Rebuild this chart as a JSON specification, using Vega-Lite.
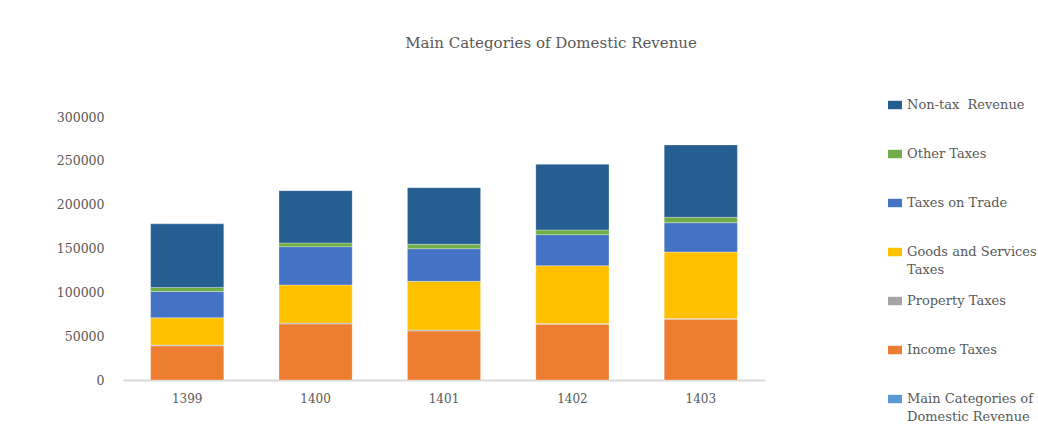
{
  "$schema": "https://vega.github.io/schema/vega-lite/v6.json",
  "autosize": {"type": "none"},
  "padding": {"left": 123, "top": 117, "right": 273, "bottom": 54},
  "width": 642,
  "height": 263,
  "background": "#ffffff",
  "title": {
    "text": "Main Categories of Domestic Revenue",
    "anchor": "middle",
    "frame": "group",
    "orient": "top",
    "dx": 107,
    "offset": 39,
    "baseline": "alphabetic",
    "font": "DejaVu Serif",
    "fontSize": 15,
    "fontWeight": "normal",
    "color": "#595959"
  },
  "data": {
    "values": [
      {"year": "1399", "category": "Income Taxes", "ord": 1, "value": 39000},
      {"year": "1399", "category": "Property Taxes", "ord": 2, "value": 1000},
      {"year": "1399", "category": "Goods and Services Taxes", "ord": 3, "value": 31000},
      {"year": "1399", "category": "Taxes on Trade", "ord": 4, "value": 30000},
      {"year": "1399", "category": "Other Taxes", "ord": 5, "value": 4600},
      {"year": "1399", "category": "Non-tax  Revenue", "ord": 6, "value": 72500},
      {"year": "1400", "category": "Income Taxes", "ord": 1, "value": 64000},
      {"year": "1400", "category": "Property Taxes", "ord": 2, "value": 1000},
      {"year": "1400", "category": "Goods and Services Taxes", "ord": 3, "value": 43400},
      {"year": "1400", "category": "Taxes on Trade", "ord": 4, "value": 43700},
      {"year": "1400", "category": "Other Taxes", "ord": 5, "value": 4200},
      {"year": "1400", "category": "Non-tax  Revenue", "ord": 6, "value": 59700},
      {"year": "1401", "category": "Income Taxes", "ord": 1, "value": 56000},
      {"year": "1401", "category": "Property Taxes", "ord": 2, "value": 1000},
      {"year": "1401", "category": "Goods and Services Taxes", "ord": 3, "value": 55600},
      {"year": "1401", "category": "Taxes on Trade", "ord": 4, "value": 37200},
      {"year": "1401", "category": "Other Taxes", "ord": 5, "value": 5000},
      {"year": "1401", "category": "Non-tax  Revenue", "ord": 6, "value": 64600},
      {"year": "1402", "category": "Income Taxes", "ord": 1, "value": 63500},
      {"year": "1402", "category": "Property Taxes", "ord": 2, "value": 1000},
      {"year": "1402", "category": "Goods and Services Taxes", "ord": 3, "value": 65900},
      {"year": "1402", "category": "Taxes on Trade", "ord": 4, "value": 35400},
      {"year": "1402", "category": "Other Taxes", "ord": 5, "value": 5300},
      {"year": "1402", "category": "Non-tax  Revenue", "ord": 6, "value": 74900},
      {"year": "1403", "category": "Income Taxes", "ord": 1, "value": 69200},
      {"year": "1403", "category": "Property Taxes", "ord": 2, "value": 1000},
      {"year": "1403", "category": "Goods and Services Taxes", "ord": 3, "value": 75800},
      {"year": "1403", "category": "Taxes on Trade", "ord": 4, "value": 33400},
      {"year": "1403", "category": "Other Taxes", "ord": 5, "value": 6200},
      {"year": "1403", "category": "Non-tax  Revenue", "ord": 6, "value": 82500}
    ]
  },
  "mark": {"type": "bar", "stroke": "#ffffff", "strokeOpacity": 0.4, "strokeWidth": 0.75},
  "encoding": {
    "x": {
      "field": "year",
      "type": "ordinal",
      "scale": {"paddingInner": 0.43, "paddingOuter": 0.215},
      "axis": {
        "title": null,
        "labelAngle": 0,
        "ticks": false,
        "tickSize": 0,
        "labelPadding": 13,
        "domainColor": "#d9d9d9",
        "domainWidth": 2,
        "labelFont": "DejaVu Serif",
        "labelFontSize": 12,
        "labelColor": "#595959"
      }
    },
    "y": {
      "field": "value",
      "type": "quantitative",
      "stack": "zero",
      "scale": {"domain": [0, 300000], "nice": false},
      "axis": {
        "title": null,
        "values": [0, 50000, 100000, 150000, 200000, 250000, 300000],
        "format": "d",
        "grid": false,
        "domain": false,
        "ticks": false,
        "tickSize": 0,
        "labelPadding": 19,
        "labelFont": "DejaVu Serif",
        "labelFontSize": 12.5,
        "labelColor": "#595959"
      }
    },
    "order": {"field": "ord", "type": "quantitative", "sort": "ascending"},
    "color": {
      "field": "category",
      "type": "nominal",
      "scale": {
        "domain": ["Non-tax  Revenue", "Other Taxes", "Taxes on Trade", "Goods and Services Taxes", "Property Taxes", "Income Taxes", "Main Categories of Domestic Revenue"],
        "range": ["#255E91", "#70AD47", "#4472C4", "#FFC000", "#A5A5A5", "#ED7D31", "#5B9BD5"]
      },
      "legend": {
        "title": null,
        "orient": "none",
        "legendX": 765,
        "legendY": -15,
        "padding": 0,
        "symbolType": "M-1,-1.17H1V0.03H-1Z",
        "symbolSize": 196,
        "symbolStrokeWidth": 0,
        "symbolOpacity": 1,
        "labelBaseline": "alphabetic",
        "labelFont": "DejaVu Serif",
        "labelFontSize": 13,
        "labelColor": "#595959",
        "labelLimit": 400,
        "labelOffset": 5,
        "rowPadding": 18,
        "labelExpr": "datum.label == 'Goods and Services Taxes' ? ['Goods and Services', 'Taxes'] : datum.label == 'Main Categories of Domestic Revenue' ? ['Main Categories of', 'Domestic Revenue'] : datum.label == 'Non-tax  Revenue' ? ['Non-tax\u00a0 Revenue', ''] : [datum.label, '']"
      }
    }
  },
  "config": {
    "view": {"stroke": null},
    "style": {"guide-label": {"lineHeight": 18}}
  }
}
